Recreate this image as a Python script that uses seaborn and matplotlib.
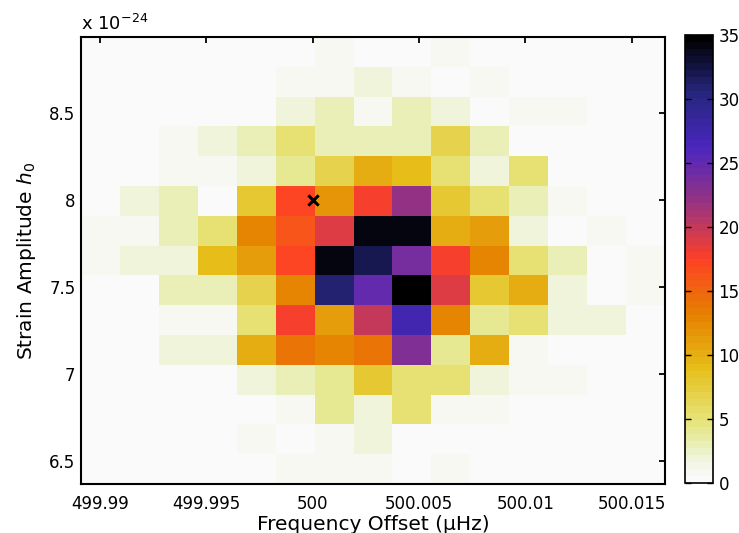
import numpy as np
import pandas as pd
import matplotlib
matplotlib.use("Agg")
import matplotlib.pyplot as plt
from matplotlib.colors import ListedColormap, LinearSegmentedColormap
import seaborn as sns

# ---- data ----
freq_centers = [499.990022, 499.991853, 499.993684, 499.995516, 499.997347,
                499.999178, 500.001010, 500.002841, 500.004672, 500.006504,
                500.008335, 500.010166, 500.011998, 500.013829, 500.015660]
h0_centers = [6.456, 6.627, 6.798, 6.969, 7.140, 7.311, 7.483, 7.654,
              7.825, 7.996, 8.167, 8.339, 8.510, 8.681, 8.852]  # x 1e-24

# counts, rows from top (h0 = 8.852) to bottom (h0 = 6.456)
counts_top_to_bottom = [
    [0, 0, 0, 0, 0, 0, 1, 0, 0, 1, 0, 0, 0, 0, 0],
    [0, 0, 0, 0, 0, 1, 1, 2, 1, 0, 1, 0, 0, 0, 0],
    [0, 0, 0, 0, 0, 2, 3, 1, 3, 2, 0, 1, 1, 0, 0],
    [0, 0, 1, 2, 3, 5, 3, 3, 3, 7, 3, 0, 0, 0, 0],
    [0, 0, 1, 1, 2, 4, 7, 10, 9, 5, 2, 5, 0, 0, 0],
    [0, 2, 3, 0, 8, 17, 12, 18, 22, 8, 5, 3, 1, 0, 0],
    [1, 1, 3, 5, 13, 16, 19, 34, 34, 10, 11, 2, 0, 1, 0],
    [1, 2, 2, 9, 11, 17, 34, 32, 24, 18, 13, 5, 3, 0, 1],
    [0, 0, 3, 3, 7, 13, 31, 25, 35, 19, 8, 10, 2, 0, 1],
    [0, 0, 1, 1, 5, 18, 11, 20, 27, 13, 4, 5, 2, 2, 0],
    [0, 0, 2, 2, 10, 14, 13, 14, 23, 4, 10, 1, 0, 0, 0],
    [0, 0, 0, 0, 2, 3, 4, 8, 5, 5, 2, 1, 1, 0, 0],
    [0, 0, 0, 0, 0, 1, 4, 2, 5, 1, 1, 0, 0, 0, 0],
    [0, 0, 0, 0, 1, 0, 1, 2, 0, 0, 0, 0, 0, 0, 0],
    [0, 0, 0, 0, 0, 1, 1, 1, 0, 1, 0, 0, 0, 0, 0],
]

inj_freq = [500.0]
inj_h0 = [8.0]

x_ticks = [499.99, 499.995, 500.0, 500.005, 500.01, 500.015]
x_ticklabels = ["499.99", "499.995", "500", "500.005", "500.01", "500.015"]
y_ticks = [6.5, 7.0, 7.5, 8.0, 8.5]
y_ticklabels = ["6.5", "7", "7.5", "8", "8.5"]
cbar_ticks = [0, 5, 10, 15, 20, 25, 30, 35]

# ---- build long table ----
rows = []
nrow = len(h0_centers)
for i, row in enumerate(counts_top_to_bottom):
    yc = h0_centers[nrow - 1 - i]
    for j, c in enumerate(row):
        rows.append((freq_centers[j], yc, c))
df = pd.DataFrame(rows, columns=["freq", "h0", "count"])


def edges_from_centers(c):
    c = np.asarray(c, dtype=float)
    d = np.diff(c)
    mids = (c[:-1] + c[1:]) / 2
    return np.concatenate([[c[0] - d[0] / 2], mids, [c[-1] + d[-1] / 2]])


x_edges = edges_from_centers(freq_centers)
y_edges = edges_from_centers(h0_centers)

# ---- style ----
sns.set_style("white")
plt.rcParams["font.family"] = ["DejaVu Sans"]
plt.rcParams["mathtext.fontset"] = "dejavusans"
plt.rcParams["text.color"] = "black"
plt.rcParams["axes.labelcolor"] = "black"

# CMRmap_r-like, with a slightly greener pale end as in the reference
cmap_nodes = [
    (0.000, (0.980, 0.980, 0.980)),
    (0.029, (0.957, 0.969, 0.925)),
    (0.057, (0.925, 0.949, 0.816)),
    (0.125, (0.900, 0.900, 0.500)),
    (0.250, (0.900, 0.750, 0.100)),
    (0.375, (0.900, 0.500, 0.000)),
    (0.500, (1.000, 0.250, 0.150)),
    (0.625, (0.600, 0.200, 0.500)),
    (0.750, (0.300, 0.150, 0.750)),
    (0.875, (0.150, 0.150, 0.500)),
    (1.000, (0.000, 0.000, 0.000)),
]
smooth = LinearSegmentedColormap.from_list("cmr_like", cmap_nodes)
cmap = ListedColormap(smooth(np.linspace(0, 1, 64)))

fig = plt.figure(figsize=(7.39, 5.33), dpi=100)
ax = fig.add_axes([81 / 739, 49 / 533, 584 / 739, 447 / 533])
cax = fig.add_axes([685 / 739, 50 / 533, 28 / 739, 448 / 533])

sns.histplot(data=df, x="freq", y="h0", weights="count",
             bins=[x_edges, y_edges], cmap=cmap, vmin=0, vmax=35,
             thresh=None, cbar=True, cbar_ax=cax, ax=ax)
mesh = ax.collections[0]
mesh.set_clim(0, 35)

sns.scatterplot(x=inj_freq, y=inj_h0, marker="x", color="black", s=55,
                linewidth=2.2, ax=ax, zorder=5)

ax.set_axisbelow(False)
ax.set_xlim(x_edges[0], x_edges[-1])
ax.set_ylim(y_edges[0], y_edges[-1])
ax.set_xticks(x_ticks)
ax.set_xticklabels(x_ticklabels)
ax.set_yticks(y_ticks)
ax.set_yticklabels(y_ticklabels)
ax.tick_params(direction="in", length=4, width=1.3, top=True, right=True,
               labelsize=12, colors="black")
ax.tick_params(axis="x", pad=8)
ax.tick_params(axis="y", pad=4)
for s in ax.spines.values():
    s.set_visible(True)
    s.set_linewidth(1.5)
    s.set_color("black")

ax.set_xlabel("Frequency Offset (\u03bcHz)", fontsize=14.5, labelpad=1,
              color="black")
ax.set_ylabel("Strain Amplitude $h_0$", fontsize=14.5, labelpad=8,
              color="black")
ax.text(0.0, 0.016, "x 10$^{-24}$", transform=ax.transAxes + 
        matplotlib.transforms.ScaledTranslation(0, 447 / 100, fig.dpi_scale_trans),
        fontsize=13, ha="left", va="baseline", color="black")

cb = mesh.colorbar
cb.set_ticks(cbar_ticks)
cb.set_ticklabels([str(t) for t in cbar_ticks])
cax.set_axisbelow(False)
cax.tick_params(direction="in", length=4, width=1.0, left=True, right=True,
                labelsize=12, pad=4, colors="black")
cb.outline.set_linewidth(1.2)
cb.outline.set_edgecolor("black")

fig.savefig("out.png", dpi=100, facecolor="white")
